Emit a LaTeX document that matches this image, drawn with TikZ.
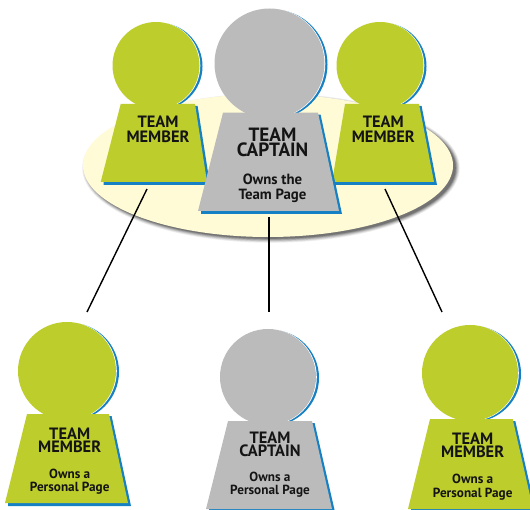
\documentclass[tikz,border=0pt]{standalone}
\usepackage{fontspec}
\setmainfont{PT Sans}
\definecolor{pgreen}{HTML}{BDCD2C}
\definecolor{pgray}{HTML}{BBBBBB}
\definecolor{pblue}{HTML}{1580C4}
\definecolor{pcream}{HTML}{FFFBD6}
\tikzset{
  labeltext/.style={align=center,text=black!92,inner sep=0pt},
  titletext/.style={labeltext,font=\fontsize{16.4}{13.2}\selectfont\bfseries},
  uppertitle/.style={labeltext,font=\fontsize{16.4}{14.6}\selectfont\bfseries},
  captaintitle/.style={labeltext,font=\fontsize{19.2}{15}\selectfont\bfseries},
  smalltext/.style={labeltext,font=\fontsize{13.2}{13.4}\selectfont\bfseries},
  captainsmall/.style={labeltext,font=\fontsize{14.8}{15}\selectfont\bfseries},
  linkline/.style={draw=black,line width=1.4pt},
}
\newcommand{\pawnshape}[9]{\def\pc{#1}\def\cx{#2}\def\cy{#3}\def\rr{#4}\def\ty{#5}\def\tl{#6}\def\tr{#7}\def\by{#8}\def\bl{#9}\pawnfinish}
\newcommand{\pawnfinish}[1]{%
  \fill[pblue] (\cx+3,\cy+0.8) circle[radius=\rr];
  \fill[pblue] (\tr-6,\ty+2) -- (\tr+2.6,\ty+2) -- (#1+3,\by+3) -- (\bl+3,\by+3) -- (\bl+3,\by) -- cycle;
  \fill[white] (\cx+0.6,\cy+0.1) circle[radius=\rr+0.2];
  \fill[\pc] (\cx,\cy) circle[radius=\rr];
  \fill[\pc] (\tl,\ty) -- (\tr,\ty) -- (#1,\by) -- (\bl,\by) -- cycle;
}
\begin{document}
\begin{tikzpicture}[x=1pt,y=-1pt]
\useasboundingbox (0,0) rectangle (530,510);
\clip (0,0) rectangle (530,510);
\fill[white] (0,0) rectangle (530,510);
% plate with soft shadow
\foreach \g/\o in {6/0.06,5/0.08,4/0.1,3/0.13,2/0.16,1/0.2}
  \fill[black,opacity=\o] (271,168) ellipse[x radius=184+\g*0.8,y radius=70+\g*0.8];
\fill[pcream] (268,165.5) ellipse[x radius=185,y radius=71.5];
% upper members
\pawnshape{pgreen}{156}{65.5}{43.5}{104}{120.7}{195}{182}{100.7}{207}
\pawnshape{pgreen}{380}{65.5}{43.5}{104}{345}{419}{182}{332}{434}
\pawnshape{pgray}{269.5}{63.5}{55}{112.7}{223}{318}{211}{198}{339}
% lower figures
\pawnshape{pgreen}{67}{371}{49}{414}{27}{109}{503}{5}{128}
\pawnshape{pgray}{268}{377}{48}{421}{228}{312}{509}{206}{332}
\pawnshape{pgreen}{470}{373}{48}{419}{430}{512.7}{509}{408}{533}
% labels
\node[uppertitle] (upperleft) at (158,129.5) {TEAM\\MEMBER};
\node[uppertitle] (upperright) at (383.3,129.5) {TEAM\\MEMBER};
\node[captaintitle] (uppercaptain) at (272.5,142) {TEAM\\CAPTAIN};
\node[captainsmall] (captainpage) at (272.5,188) {Owns the\\Team Page};
\node[titletext] (lowerleft) at (69.7,440.5) {TEAM\\MEMBER};
\node[smalltext] (leftpage) at (69.7,481.5) {Owns a\\Personal Page};
\node[titletext] (lowercaptain) at (270,444) {TEAM\\CAPTAIN};
\node[smalltext] (midpage) at (270,484.5) {Owns a\\Personal Page};
\node[titletext] (lowerright) at (472.7,445) {TEAM\\MEMBER};
\node[smalltext] (rightpage) at (472.7,487) {Owns a\\Personal Page};
% connectors
\coordinate (la) at (147,189); \coordinate (lb) at (87,312);
\coordinate (ma) at (269,217); \coordinate (mb) at (269,312);
\coordinate (ra) at (385,189); \coordinate (rb) at (442,312);
\draw[linkline] (la) -- (lb);
\draw[linkline] (ma) -- (mb);
\draw[linkline] (ra) -- (rb);
\end{tikzpicture}
\end{document}
